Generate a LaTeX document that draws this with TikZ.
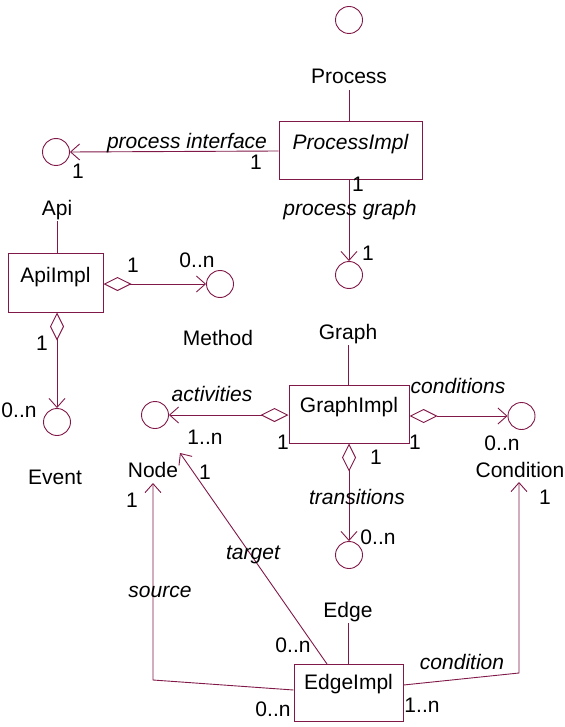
\documentclass[tikz,border=0pt]{standalone}
\usepackage{fontspec}
\setmainfont{Liberation Sans}
\usetikzlibrary{arrows.meta,calc}
\definecolor{uml}{RGB}{128,24,72}
\begin{document}
\begin{tikzpicture}[x=1pt,y=-1pt,
  every node/.style={font=\fontsize{21}{24}\selectfont},
  box/.style={draw=uml, line width=1pt, inner sep=0pt, text height=28pt, text depth=30pt},
  iface/.style={draw=uml, line width=0.9pt, circle, minimum size=27pt, inner sep=0pt},
  txt/.style={anchor=base, inner sep=0pt},
  itx/.style={anchor=base, inner sep=0pt, font=\fontsize{21}{24}\selectfont\itshape},
  conn/.style={draw=uml, line width=0.9pt},
  assoc/.style={conn, -{Straight Barb[length=9pt,width=16pt,line width=0.9pt]}},
  aggr/.style={conn, {Diamond[open,length=28pt,width=14pt,line width=0.9pt]}-{Straight Barb[length=9pt,width=16pt,line width=0.9pt]}}
]
\useasboundingbox (0,0) rectangle (564,727);

% interface circles
\node[iface] (cProc) at (349,20) {};
\node[iface] (cApi) at (56,152) {};
\node[iface] (cGraph) at (349,275) {};
\node[iface] (cMethod) at (220,284) {};
\node[iface] (cEvent) at (57,422) {};
\node[iface] (cNode) at (155,415) {};
\node[iface] (cCond) at (521.5,416) {};
\node[iface] (cEdge) at (349,555) {};

% classes
\node[box, minimum width=143pt] (pi) at (350.5,151) {\itshape ProcessImpl};
\node[box, minimum width=95pt, text height=29pt, text depth=30pt] (ai) at (55.5,282.5) {ApiImpl};
\node[box, minimum width=120pt, text height=27pt, text depth=31pt] (gi) at (349,414) {GraphImpl};
\node[box, minimum width=109pt, text height=25pt, text depth=32pt] (ei) at (348.5,692.5) {EdgeImpl};

% interface names
\node[txt] (lProc) at (349,84) {Process};
\node[txt] (lApi) at (57,215) {Api};
\node[txt] (lMethod) at (218,345) {Method};
\node[txt] (lEvent) at (55,484) {Event};
\node[txt] (lGraph) at (348,339) {Graph};
\node[txt] (lNode) at (153,477) {Node};
\node[txt] (lCond) at (520,477) {Condition};
\node[txt] (lEdge) at (348,617) {Edge};

% realization stubs
\draw[conn] (349,90) -- (pi.north -| 349,0);
\draw[conn] (57,221) -- (ai.north -| 57,0);
\draw[conn] (348,345) -- (gi.north -| 348,0);
\draw[conn] (348,623) -- (ei.north -| 348,0);

% process interface
\draw[assoc] (pi.west) -- (cApi.east);
\node[itx] (tPI) at (187,149) {process interface};
\node[txt] (m1) at (256,170) {1};
\node[txt] (m2) at (78,179) {1};

% process graph
\draw[assoc] (pi.south -| cGraph.north) -- (cGraph.north);
\node[txt] (m3) at (358,192) {1};
\node[itx] (tPG) at (350,215) {process graph};
\node[txt] (m4) at (368,260) {1};

% ApiImpl - Method
\draw[aggr] (ai.east |- cMethod.west) -- (cMethod.west);
\node[txt] (m5) at (133,272) {1};
\node[txt] (m6) at (197,267) {0..n};

% ApiImpl - Event
\draw[aggr] (ai.south -| cEvent.north) -- (cEvent.north);
\node[txt] (m7) at (42,350) {1};
\node[txt] (m8) at (19,417) {0..n};

% activities
\draw[aggr] (gi.west |- cNode.east) -- (cNode.east);
\node[itx] (tAct) at (212,401) {activities};
\node[txt] (m9) at (205,444) {1..n};
\node[txt] (m10) at (283,449) {1};

% conditions
\draw[aggr] (gi.east |- cCond.west) -- (cCond.west);
\node[itx] (tConds) at (458,393) {conditions};
\node[txt] (m11) at (415,449) {1};
\node[txt] (m12) at (502,450) {0..n};

% transitions
\draw[aggr] (gi.south -| cEdge.north) -- (cEdge.north);
\node[txt] (m13) at (376,464) {1};
\node[itx] (tTr) at (357,504) {transitions};
\node[txt] (m14) at (378,544) {0..n};

% target
\coordinate (tgtS) at (327,664);
\coordinate (tgtE) at (180,453);
\draw[assoc] (tgtS) -- (tgtE);
\node[txt] (m15) at (205,479) {1};
\node[itx] (tTg) at (253,559) {target};
\node[txt] (m16) at (293,652) {0..n};

% source
\coordinate (srcB) at (153,680);
\coordinate (srcE) at (153,483);
\draw[assoc] (ei.west |- 0,690) -- (srcB) -- (srcE);
\node[txt] (m17) at (132,507) {1};
\node[itx] (tSrc) at (160,597) {source};
\node[txt] (m18) at (273,716) {0..n};

% condition
\coordinate (cndB) at (519,673);
\coordinate (cndE) at (519,482);
\draw[assoc] (ei.east |- 0,685) -- (cndB) -- (cndE);
\node[txt] (m19) at (545,504) {1};
\node[itx] (tCnd) at (462,669) {condition};
\node[txt] (m20) at (422,712) {1..n};
\end{tikzpicture}
\end{document}
